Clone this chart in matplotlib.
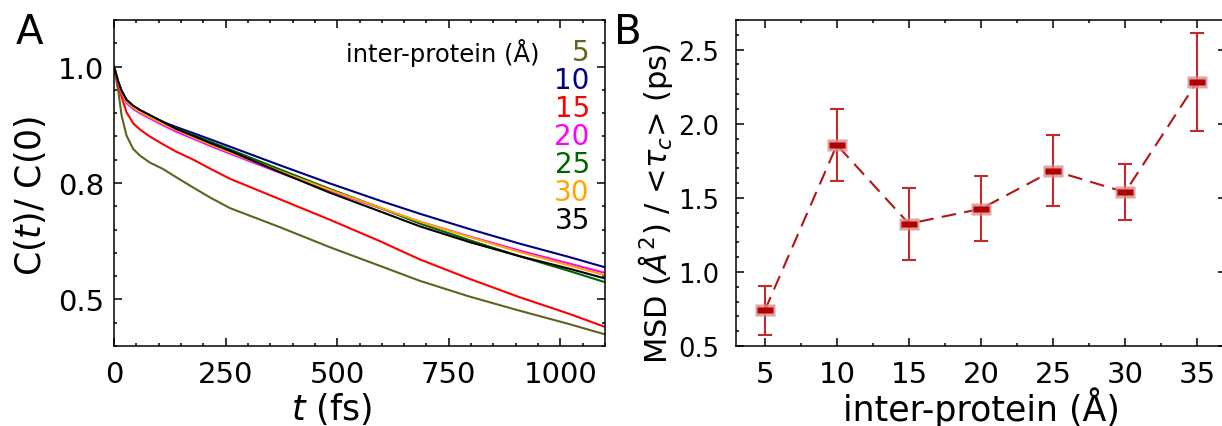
import matplotlib
matplotlib.use('Agg')
import matplotlib.pyplot as plt
from matplotlib.ticker import MultipleLocator, FormatStrFormatter

# panel A: normalised correlation C(t)/C(0)
t_fs = [0, 10, 17, 28, 43, 58, 80, 110, 140, 178, 215, 260, 372, 484, 596, 685, 797, 908, 1020, 1100]
c_05 = [1.0, 0.945, 0.895, 0.852, 0.823, 0.809, 0.794, 0.780, 0.762, 0.740, 0.719, 0.696,
        0.655, 0.612, 0.572, 0.540, 0.506, 0.476, 0.447, 0.425]
c_10 = [1.0, 0.966, 0.948, 0.928, 0.915, 0.906, 0.895, 0.881, 0.870, 0.857, 0.844, 0.828,
        0.788, 0.749, 0.712, 0.684, 0.651, 0.620, 0.591, 0.569]
c_15 = [1.0, 0.958, 0.935, 0.902, 0.878, 0.865, 0.850, 0.833, 0.817, 0.800, 0.781, 0.759,
        0.715, 0.671, 0.625, 0.586, 0.544, 0.505, 0.469, 0.441]
c_20 = [1.0, 0.962, 0.942, 0.922, 0.909, 0.900, 0.889, 0.874, 0.860, 0.845, 0.830, 0.813,
        0.772, 0.733, 0.696, 0.667, 0.635, 0.605, 0.577, 0.557]
c_25 = [1.0, 0.965, 0.947, 0.927, 0.914, 0.905, 0.895, 0.880, 0.867, 0.853, 0.839, 0.822,
        0.779, 0.737, 0.697, 0.663, 0.627, 0.593, 0.561, 0.537]
c_30 = [1.0, 0.964, 0.945, 0.925, 0.912, 0.903, 0.892, 0.877, 0.864, 0.848, 0.833, 0.816,
        0.775, 0.735, 0.697, 0.667, 0.634, 0.602, 0.573, 0.552]
c_35 = [1.0, 0.966, 0.948, 0.929, 0.916, 0.907, 0.896, 0.881, 0.866, 0.851, 0.836, 0.819,
        0.773, 0.729, 0.689, 0.657, 0.623, 0.593, 0.566, 0.545]
labels = ['5', '10', '15', '20', '25', '30', '35']
colors = ['#62621c', '#000080', '#ff0000', '#ff00ff', '#006400', '#ffa500', '#000000']

# panel B: MSD / <tau_c>
dist = [5, 10, 15, 20, 25, 30, 35]
msd = [0.74, 1.857, 1.325, 1.426, 1.684, 1.538, 2.284]
msd_err = [0.165, 0.243, 0.243, 0.219, 0.24, 0.187, 0.33]

plt.rcParams['font.family'] = 'DejaVu Sans'
plt.rcParams['mathtext.fontset'] = 'dejavusans'

fig = plt.figure(figsize=(12.22, 4.27), dpi=100)
W, H = 1222.0, 427.0
ax1 = fig.add_axes([114 / W, 1 - 347 / H, 491 / W, 326 / H])
ax2 = fig.add_axes([736 / W, 1 - 347 / H, 490 / W, 326 / H])

curves = [c_05, c_10, c_15, c_20, c_25, c_30, c_35]
for c, col in zip(curves, colors):
    ax1.plot(t_fs, c, color=col, lw=1.5)

ax1.set_xlim(0, 1100)
ax1.set_ylim(0.4, 1.1)
ax1.xaxis.set_major_locator(MultipleLocator(250))
ax1.xaxis.set_minor_locator(MultipleLocator(50))
ax1.yaxis.set_major_locator(MultipleLocator(0.25))
ax1.yaxis.set_minor_locator(MultipleLocator(0.05))
ax1.yaxis.set_major_formatter(FormatStrFormatter('%.1f'))
ax1.set_xlabel(r'$t$ (fs)', fontsize=25)
ax1.set_ylabel(r'C($t$)/ C$\mathit{(0)}$', fontsize=25)
ax1.xaxis.set_label_coords(0.444, -0.135)
ax1.yaxis.set_label_coords(-0.135, 0.465)

# colour-coded key
ax1.text(0.8676, 0.902, 'inter-protein (Å)', transform=ax1.transAxes,
         ha='right', va='center', fontsize=17.5)
ys = [0.902, 0.816, 0.730, 0.644, 0.558, 0.472, 0.386]
for lab, col, yy in zip(labels, colors, ys):
    ax1.text(0.969, yy, lab, color=col, transform=ax1.transAxes,
             ha='right', va='center', fontsize=20)

# panel B
ax2.errorbar(dist, msd, yerr=msd_err, fmt='none', ecolor='#c42a2a',
             elinewidth=1.5, capsize=4.7, capthick=1.5, zorder=2)
ax2.plot(dist, msd, color='#b41414', lw=1.5, dashes=(7, 4), zorder=3)
outer = [(-1, -0.62), (1, -0.62), (1, 0.62), (-1, 0.62), (-1, -0.62)]
ax2.plot(dist, msd, ls='none', marker=outer, ms=15, mfc='#d98c8c', mec='none',
         alpha=0.8, zorder=4)
inner = [(-1, -0.45), (1, -0.45), (1, 0.45), (-1, 0.45), (-1, -0.45)]
ax2.plot(dist, msd, ls='none', marker=inner, ms=11, mfc='#b00000', mec='none', zorder=5)

ax2.set_xlim(3, 37)
ax2.set_ylim(0.5, 2.7)
ax2.set_xticks(dist)
ax2.xaxis.set_minor_locator(MultipleLocator(2.5))
ax2.yaxis.set_major_locator(MultipleLocator(0.5))
ax2.yaxis.set_minor_locator(MultipleLocator(0.1))
ax2.set_xlabel('inter-protein (Å)', fontsize=25)
ax2.set_ylabel(r'MSD ($\mathit{Å}^2$) / <$\tau_c$> (ps)', fontsize=22)
ax2.xaxis.set_label_coords(0.5, -0.125)
ax2.yaxis.set_label_coords(-0.125, 0.44)

for ax in (ax1, ax2):
    for s in ax.spines.values():
        s.set_linewidth(1.1)
    ax.tick_params(which='both', direction='in', top=True, right=True, width=1.1)
    ax.tick_params(which='major', length=5.5)
    ax.tick_params(which='minor', length=2.5)
    ax.tick_params(axis='x', labelsize=21, pad=10)
ax1.tick_params(axis='y', labelsize=21, pad=7)
ax2.tick_params(axis='y', labelsize=18.5, pad=12)

fig.text(16 / W, 1 - 44 / H, 'A', fontsize=29, ha='left', va='baseline')
fig.text(614 / W, 1 - 44 / H, 'B', fontsize=29, ha='left', va='baseline')

fig.savefig('out.png', dpi=100)
